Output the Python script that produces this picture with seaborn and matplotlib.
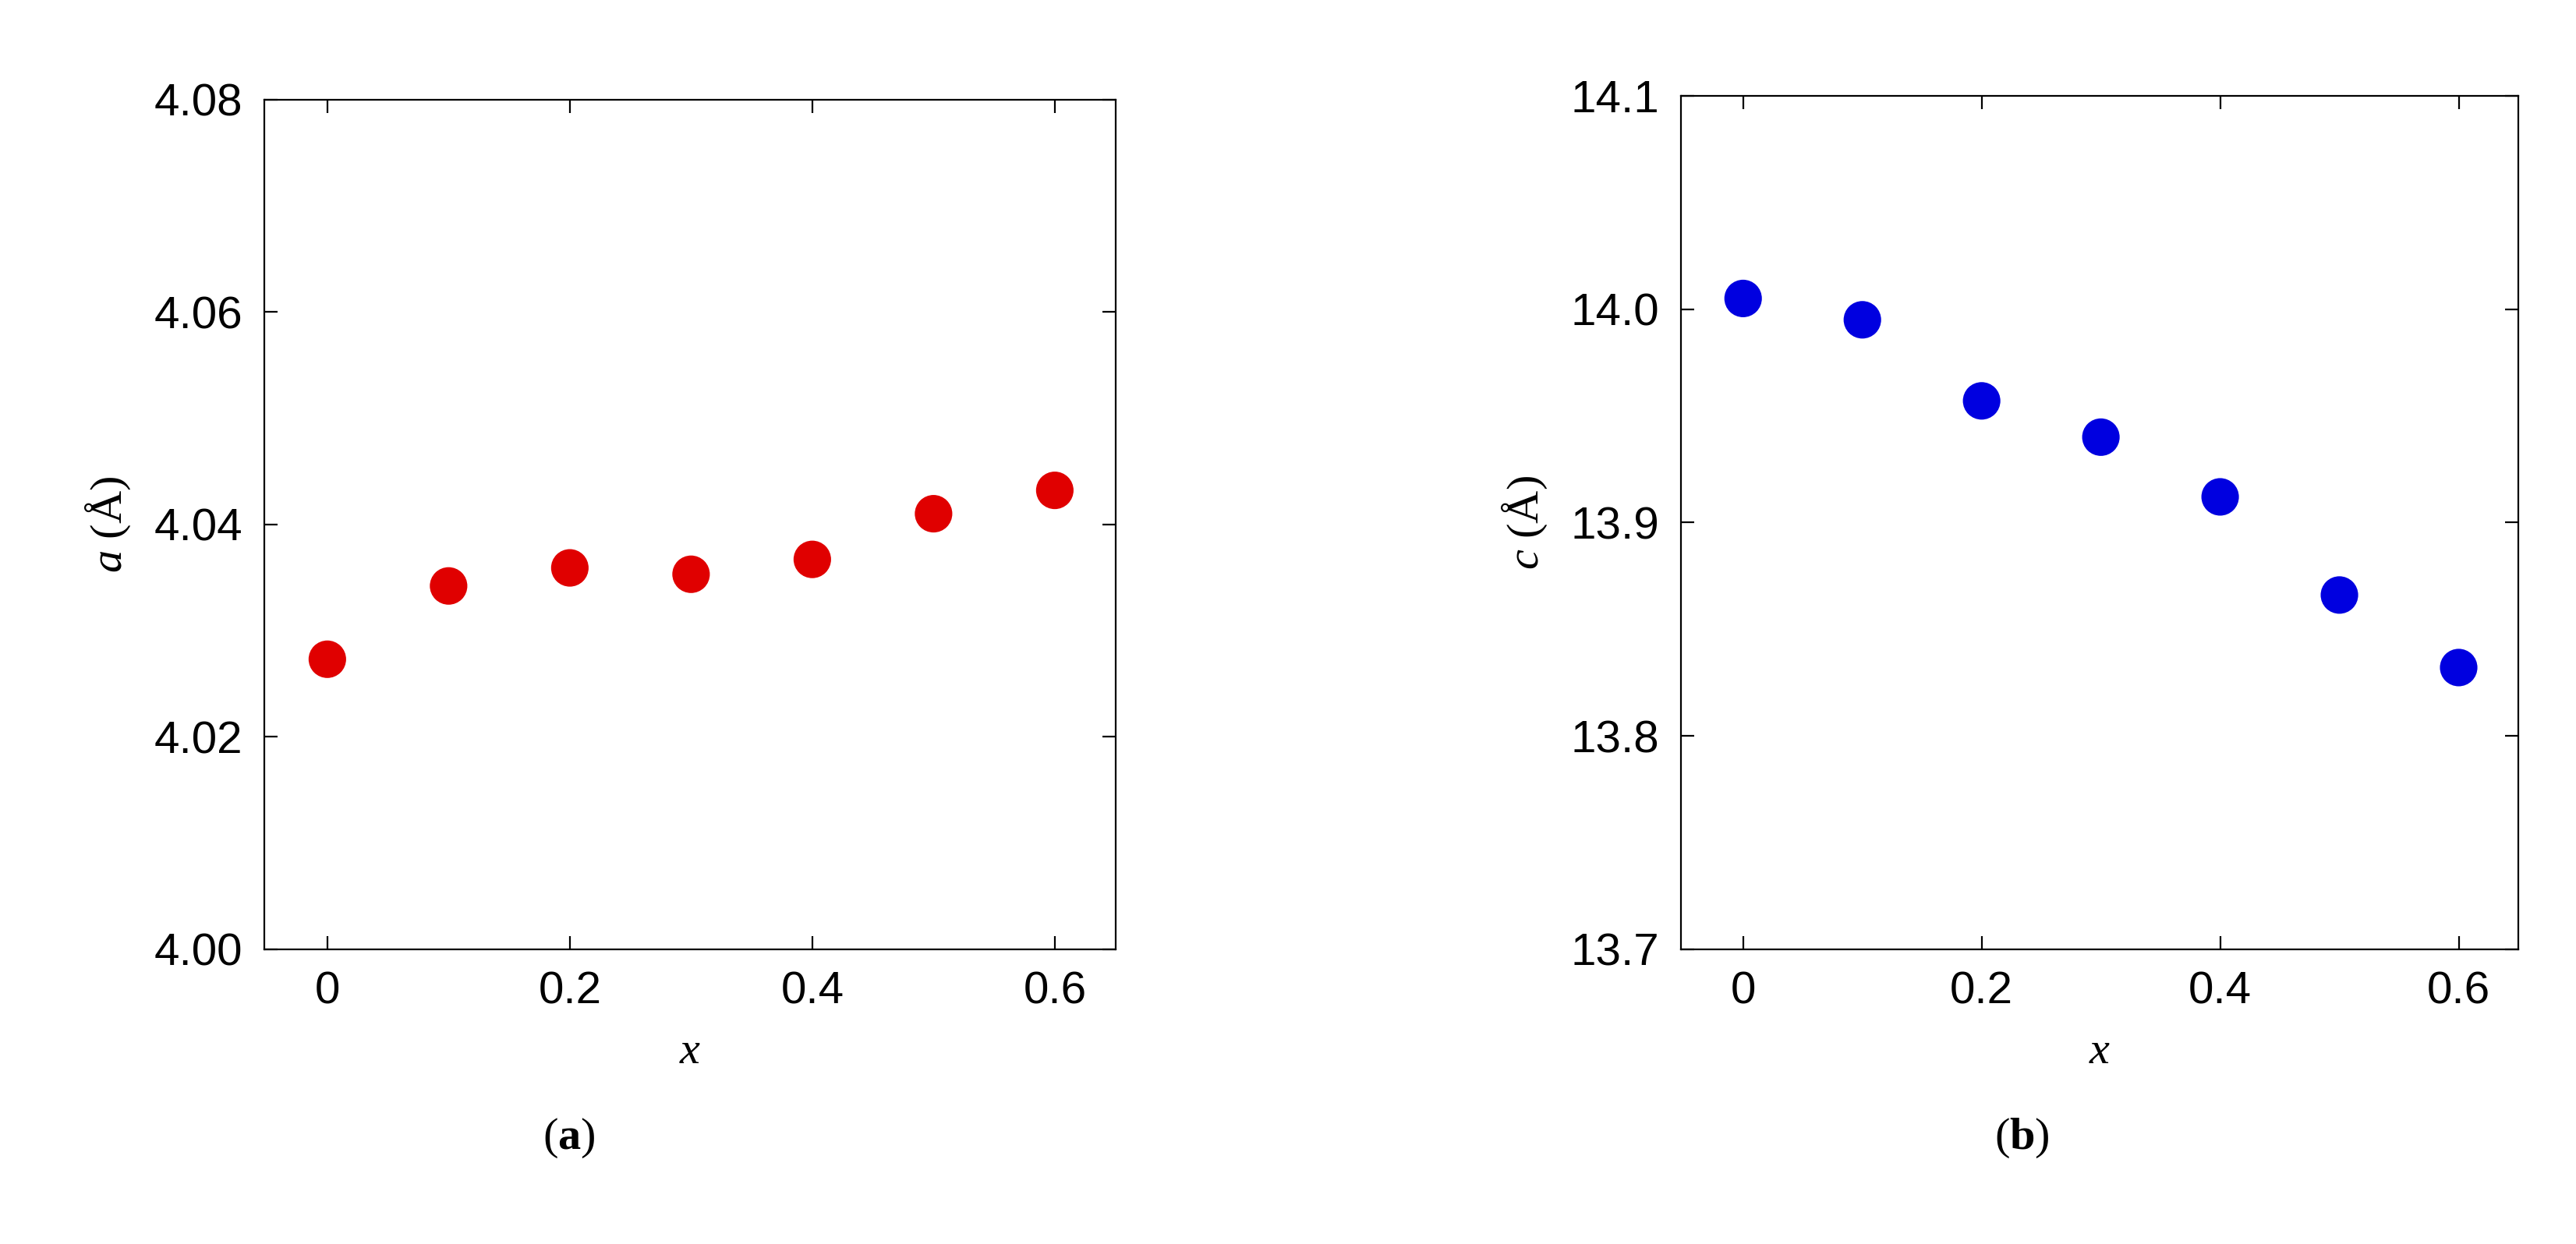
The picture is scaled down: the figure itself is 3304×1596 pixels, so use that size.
import matplotlib
matplotlib.use("Agg")
import matplotlib.pyplot as plt
import seaborn as sns
import pandas as pd

x = [0, 0.1, 0.2, 0.3, 0.4, 0.5, 0.6]
a_vals = [4.0273, 4.0342, 4.0359, 4.0353, 4.0367, 4.0410, 4.0432]
c_vals = [14.005, 13.995, 13.957, 13.940, 13.912, 13.866, 13.832]
xticks = [0, 0.2, 0.4, 0.6]
xticklabels = ["0", "0.2", "0.4", "0.6"]
a_ticks = [4.00, 4.02, 4.04, 4.06, 4.08]
c_ticks = [13.7, 13.8, 13.9, 14.0, 14.1]

sns.set_style("ticks")
plt.rcParams['font.family'] = ['Liberation Sans', 'DejaVu Sans']
plt.rcParams['text.color'] = 'black'
plt.rcParams['xtick.color'] = 'black'
plt.rcParams['ytick.color'] = 'black'
plt.rcParams['axes.labelcolor'] = 'black'
plt.rcParams['mathtext.fontset'] = 'custom'
plt.rcParams['mathtext.it'] = 'Liberation Serif:italic'
plt.rcParams['mathtext.rm'] = 'Liberation Serif'
plt.rcParams['mathtext.bf'] = 'Liberation Serif:bold'

fig = plt.figure(figsize=(16.52, 7.98), dpi=200)
ax1 = fig.add_axes([0.1026, 0.237, 0.3304, 0.683])
ax2 = fig.add_axes([0.6526, 0.237, 0.325, 0.686])

df = pd.DataFrame({"x": x, "a": a_vals, "c": c_vals})
sns.scatterplot(data=df, x="x", y="a", ax=ax1, color="#e00000", s=300, edgecolor="none")
sns.scatterplot(data=df, x="x", y="c", ax=ax2, color="#0000e0", s=300, edgecolor="none")

for ax, ticks, ylab, yl, fmt in [(ax1, a_ticks, "a", (4.00, 4.08), "{:.2f}"),
                                 (ax2, c_ticks, "c", (13.7, 14.1), "{:.1f}")]:
    ax.set_xlim(-0.052, 0.65)
    ax.set_ylim(*yl)
    ax.set_xticks(xticks)
    ax.set_xticklabels(xticklabels)
    ax.set_yticks(ticks)
    ax.set_yticklabels([fmt.format(t) for t in ticks])
    ax.tick_params(direction="in", top=True, right=True, labelsize=21, length=6, width=0.8, pad=10)
    for s in ax.spines.values():
        s.set_linewidth(0.8)
        s.set_color("black")
    ax.set_xlabel("$x$", fontsize=21, labelpad=8)
    ax.set_ylabel(f"${ylab}$ (Å)", fontfamily="Liberation Serif", fontsize=21, labelpad=10)

fig.text(0.221, 0.085, r"($\mathbf{a}$)", fontfamily="Liberation Serif", fontsize=21, ha="center", va="center")
fig.text(0.785, 0.085, r"($\mathbf{b}$)", fontfamily="Liberation Serif", fontsize=21, ha="center", va="center")

plt.savefig("out.png", dpi=200)
